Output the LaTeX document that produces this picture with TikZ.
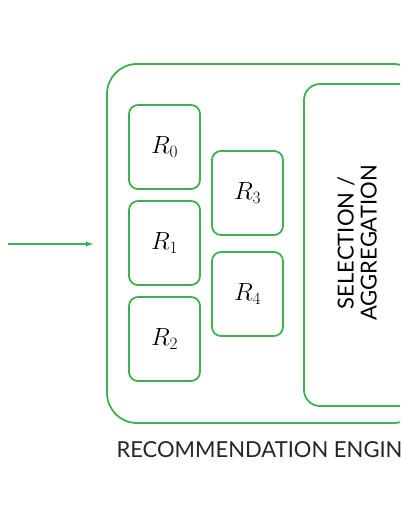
\documentclass[tikz,border=0pt]{standalone}
\usepackage{fontspec}
\setmainfont{Lato}
\usepackage{tikz}
\usetikzlibrary{arrows}

\definecolor{engGreen}{RGB}{62,178,80}

\begin{document}
\begin{tikzpicture}[x=1pt,y=-1pt,
    box/.style={draw=engGreen,line width=1.8pt,rounded corners=9pt,
      minimum width=71pt,minimum height=84pt,inner sep=0pt},
    rlabel/.style={font=\fontsize{24}{26}\selectfont}]
  \useasboundingbox (0,0) rectangle (400,516);
  \clip (0,0) rectangle (400,516);
  % outer engine frame
  \node[draw=engGreen,line width=1.8pt,rounded corners=30pt,
    minimum width=316pt,minimum height=359pt] (engine) at (265,243.5) {};
  % selection block
  \node[draw=engGreen,line width=1.8pt,rounded corners=16pt,
    minimum width=110pt,minimum height=322pt] (select) at (359,245) {};
  \node[rotate=90,align=center,font=\fontsize{22}{23}\selectfont]
    (selecttext) at (357,243) {SELECTION /\\AGGREGATION};
  % recommenders
  \node[box,rlabel] (r0) at (164.5,147) {$R_0$};
  \node[box,rlabel] (r1) at (164.5,243) {$R_1$};
  \node[box,rlabel] (r2) at (164.5,339) {$R_2$};
  \node[box,rlabel] (r3) at (247.5,193) {$R_3$};
  \node[box,rlabel] (r4) at (247.5,294) {$R_4$};
  % input arrow
  \coordinate (in) at (8,244);
  \coordinate (inend) at (93,244);
  \draw[-latex,engGreen,line width=1.4pt] (in) -- (inend);
  % caption
  \node[font=\fontsize{22}{24}\selectfont,anchor=west,text=black!85] (caption)
    at (113,450) {RECOMMENDATION ENGINE};
\end{tikzpicture}
\end{document}
